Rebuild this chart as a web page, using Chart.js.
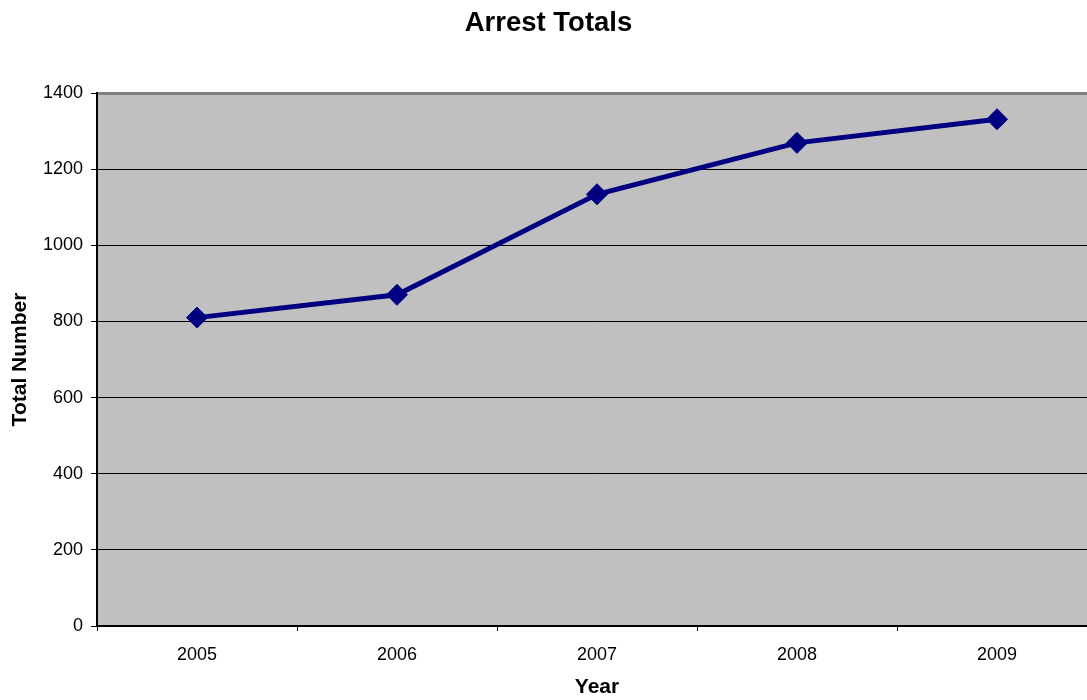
<!DOCTYPE html>
<html>
<head>
<meta charset="utf-8">
<script src="https://cdn.jsdelivr.net/npm/chart.js@4/dist/chart.umd.min.js"></script>
<style>
    html, body { margin: 0; padding: 0; background: #fff; overflow: hidden; }
    #clip { position: relative; width: 1087px; height: 700px; overflow: hidden; }
    #wrap { position: absolute; left: 0; top: 0; width: 1097px; height: 700px; }
</style>
</head>
<body>
<div id="clip"><div id="wrap"><canvas id="arrestChart" width="1097" height="700"></canvas></div></div>
<script>
// Chart data
const years = ['2005', '2006', '2007', '2008', '2009'];
const arrestTotals = [810, 870, 1134, 1269, 1331];
const yTicks = [0, 200, 400, 600, 800, 1000, 1200, 1400];

const FONT = "'Liberation Sans', Arial, sans-serif";

// Grey plot background like the spreadsheet chart
const plotBackground = {
    id: 'plotBackground',
    beforeDraw(chart) {
        const { ctx, chartArea } = chart;
        ctx.save();
        ctx.fillStyle = '#c0c0c0';
        ctx.fillRect(chartArea.left, chartArea.top, chartArea.right - chartArea.left, chartArea.bottom - chartArea.top);
        ctx.restore();
    }
};

const ctx = document.getElementById('arrestChart').getContext('2d');
new Chart(ctx, {
    type: 'line',
    data: {
        labels: years,
        datasets: [{
            label: 'Arrest Totals',
            data: arrestTotals,
            borderColor: '#000080',
            backgroundColor: '#000080',
            borderWidth: 5,
            pointStyle: 'rectRot',
            pointRadius: 10.5,
            pointBorderWidth: 1,
            pointBorderColor: '#000080',
            pointBackgroundColor: '#000080',
            tension: 0
        }]
    },
    options: {
        responsive: false,
        animation: false,
        devicePixelRatio: 1,
        layout: { padding: 0, autoPadding: false },
        plugins: {
            legend: { display: false },
            tooltip: { enabled: false },
            title: {
                display: true,
                text: 'Arrest Totals',
                color: '#000',
                font: { family: FONT, size: 27.5, weight: 'bold' },
                padding: { top: 7, bottom: 53 }
            }
        },
        scales: {
            x: {
                offset: true,
                grid: {
                    offset: true,
                    drawOnChartArea: false,
                    color: '#000',
                    tickLength: 5
                },
                border: { color: '#000', width: 2 },
                ticks: {
                    color: '#000',
                    padding: 13,
                    font: { family: FONT, size: 18 }
                },
                title: {
                    display: true,
                    text: 'Year',
                    color: '#000',
                    font: { family: FONT, size: 21, weight: 'bold' },
                    padding: { top: 0, bottom: 0 }
                },
                afterFit(scale) { scale.height = 74; }
            },
            y: {
                min: 0,
                max: 1400,
                afterBuildTicks(scale) {
                    scale.ticks = yTicks.map(v => ({ value: v }));
                },
                grid: {
                    color: c => (c.tick && c.tick.value === 1400) ? '#808080' : '#000',
                    lineWidth: c => (c.tick && c.tick.value === 1400) ? 3 : 1,
                    tickColor: '#000',
                    tickWidth: 1,
                    tickLength: 6
                },
                border: { color: '#000', width: 2 },
                ticks: {
                    color: '#000',
                    padding: 8,
                    font: { family: FONT, size: 18 },
                    callback: v => String(v)
                },
                title: {
                    display: true,
                    text: 'Total Number',
                    color: '#000',
                    font: { family: FONT, size: 21, weight: 'bold' },
                    padding: { top: 8, bottom: 0 }
                },
                afterFit(scale) { scale.width = 97; }
            }
        }
    },
    plugins: [plotBackground]
});
</script>
</body>
</html>
